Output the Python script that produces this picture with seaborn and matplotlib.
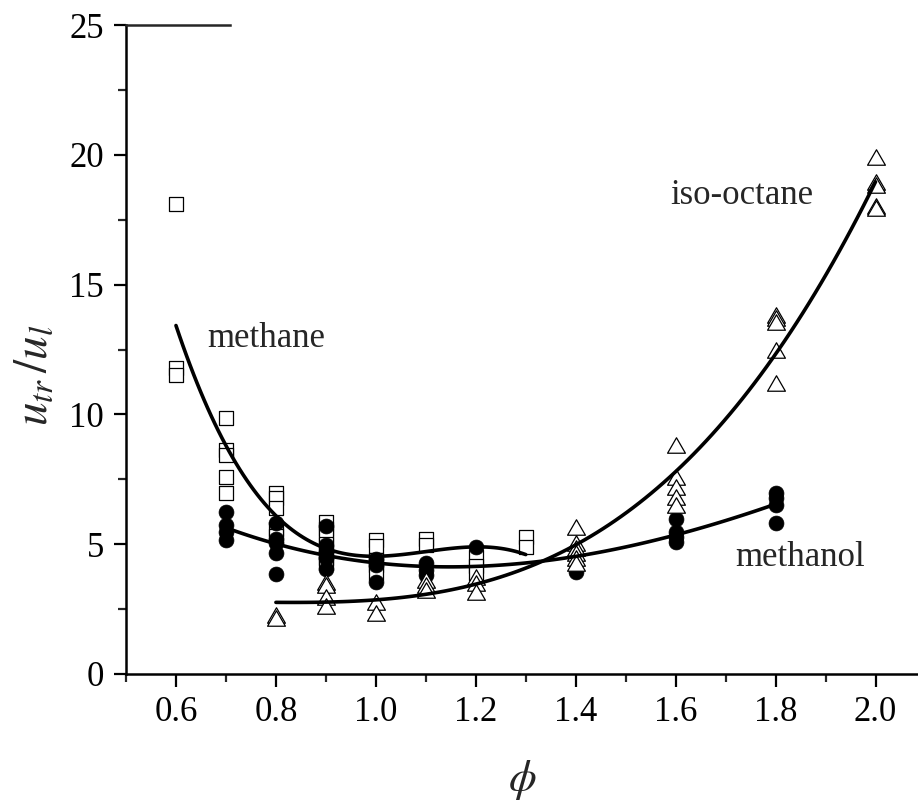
import matplotlib
matplotlib.use("Agg")
import matplotlib.pyplot as plt
import seaborn as sns
import numpy as np
import pandas as pd
from matplotlib.path import Path
from matplotlib.ticker import MultipleLocator

# ---------------- data ----------------
methane_x = [0.6, 0.6, 0.6,
             0.7, 0.7, 0.7, 0.7, 0.7,
             0.8, 0.8, 0.8, 0.8, 0.8,
             0.9, 0.9, 0.9, 0.9, 0.9, 0.9, 0.9,
             1.0, 1.0, 1.0, 1.0, 1.0,
             1.1, 1.1,
             1.2, 1.2, 1.2,
             1.3, 1.3]
methane_y = [18.1, 11.8, 11.5,
             9.86, 8.63, 8.44, 7.59, 6.97,
             6.97, 6.78, 6.39, 5.6, 5.3,
             5.86, 5.6, 5.3, 5.0, 4.7, 4.45, 4.27,
             5.16, 4.93, 4.4, 4.2, 3.9,
             5.2, 4.97,
             4.5, 4.16, 3.9,
             5.28, 4.9]

methanol_x = [0.7, 0.7, 0.7, 0.7,
              0.8, 0.8, 0.8, 0.8, 0.8,
              0.9, 0.9, 0.9, 0.9, 0.9,
              1.0, 1.0, 1.0,
              1.1, 1.1, 1.1,
              1.2,
              1.4,
              1.6, 1.6, 1.6, 1.6,
              1.8, 1.8, 1.8, 1.8]
methanol_y = [6.24, 5.74, 5.47, 5.16,
              5.82, 5.2, 5.04, 4.66, 3.85,
              5.7, 4.97, 4.7, 4.47, 4.04,
              4.43, 4.2, 3.54,
              4.27, 4.0, 3.8,
              4.9,
              3.93,
              5.97, 5.47, 5.28, 5.08,
              6.97, 6.78, 6.51, 5.82]

isooctane_x = [0.8, 0.8,
               0.9, 0.9, 0.9, 0.9,
               1.0, 1.0,
               1.1, 1.1, 1.1,
               1.2, 1.2, 1.2,
               1.4, 1.4, 1.4, 1.4, 1.4, 1.4,
               1.6, 1.6, 1.6, 1.6, 1.6,
               1.8, 1.8, 1.8, 1.8, 1.8,
               2.0, 2.0, 2.0, 2.0, 2.0]
isooctane_y = [2.27, 2.16,
               3.54, 3.43, 2.97, 2.62,
               2.77, 2.35,
               3.62, 3.43, 3.24,
               3.74, 3.5, 3.16,
               5.66, 5.04, 4.85, 4.66, 4.47, 4.27,
               8.82, 7.59, 7.2, 6.82, 6.51,
               13.83, 13.71, 13.56, 12.48, 11.21,
               19.9, 18.95, 18.84, 18.03, 17.95]

labels = ["methane", "iso-octane", "methanol"]
label_pos = [(0.662, 12.6), (1.59, 18.1), (1.72, 4.16)]

xticks = [0.6, 0.8, 1.0, 1.2, 1.4, 1.6, 1.8, 2.0]
yticks = [0, 5, 10, 15, 20, 25]

# ---------------- style ----------------
sns.set_style("ticks")
plt.rcParams["font.family"] = ["Liberation Serif", "DejaVu Serif"]
plt.rcParams["mathtext.fontset"] = "stix"

fig = plt.figure(figsize=(9.18, 8.01), dpi=100)
ax = fig.add_axes([126 / 918, 1 - 674 / 801, (918 - 126) / 918, (674 - 25) / 801])

# closed, equilateral open-triangle marker
tri = Path([(-1, -0.866), (1, -0.866), (0, 0.866), (-1, -0.866)],
           [Path.MOVETO, Path.LINETO, Path.LINETO, Path.CLOSEPOLY])

# markers: squares, circles, triangles (in that drawing order)
sns.scatterplot(x=methane_x, y=methane_y, ax=ax, marker="s", s=95,
                facecolor="white", edgecolor="black", linewidth=0.9, zorder=3)
sns.scatterplot(x=methanol_x, y=methanol_y, ax=ax, marker="o", s=115,
                color="black", edgecolor="black", linewidth=0.5, zorder=4)
sns.scatterplot(x=isooctane_x, y=isooctane_y, ax=ax, marker=tri, s=165,
                facecolor="white", edgecolor="black", linewidth=0.9, zorder=5)

# cubic trend curves
for xs, ys in [(methane_x, methane_y), (methanol_x, methanol_y),
               (isooctane_x, isooctane_y)]:
    sns.regplot(x=np.array(xs), y=np.array(ys), ax=ax, order=3, scatter=False,
                ci=None, color="black", truncate=True,
                line_kws=dict(lw=2.6, zorder=6))

for lab, (lx, ly) in zip(labels, label_pos):
    ax.text(lx, ly, lab, fontsize=25, ha="left", va="baseline")

ax.set_xlim(0.5, 2.085)
ax.set_ylim(0, 25)
ax.set_xticks(xticks)
ax.set_xticklabels([f"{t:.1f}" for t in xticks])
ax.set_yticks(yticks)
ax.xaxis.set_minor_locator(MultipleLocator(0.1))
ax.yaxis.set_minor_locator(MultipleLocator(2.5))

ax.tick_params(axis="both", which="major", direction="out", length=9,
               width=1.6, labelsize=25, pad=7, colors="black")
ax.tick_params(axis="both", which="minor", direction="out", length=5.5,
               width=1.6)

for sp in ["left", "bottom"]:
    ax.spines[sp].set_linewidth(1.8)
    ax.spines[sp].set_color("black")
ax.spines["right"].set_visible(False)
ax.spines["top"].set_visible(True)
ax.spines["top"].set_linewidth(1.8)
ax.spines["top"].set_bounds(0.5, 0.708)
ax.tick_params(top=False, right=False, which="both")

ax.set_xlabel(r"$\phi$", fontsize=32)
ax.xaxis.set_label_coords(0.5, -0.13)
ax.set_ylabel(r"$u_{tr}\,/u_l$", fontsize=34)
ax.yaxis.set_label_coords(-0.088, 0.46)

fig.savefig("out.png", dpi=100)
